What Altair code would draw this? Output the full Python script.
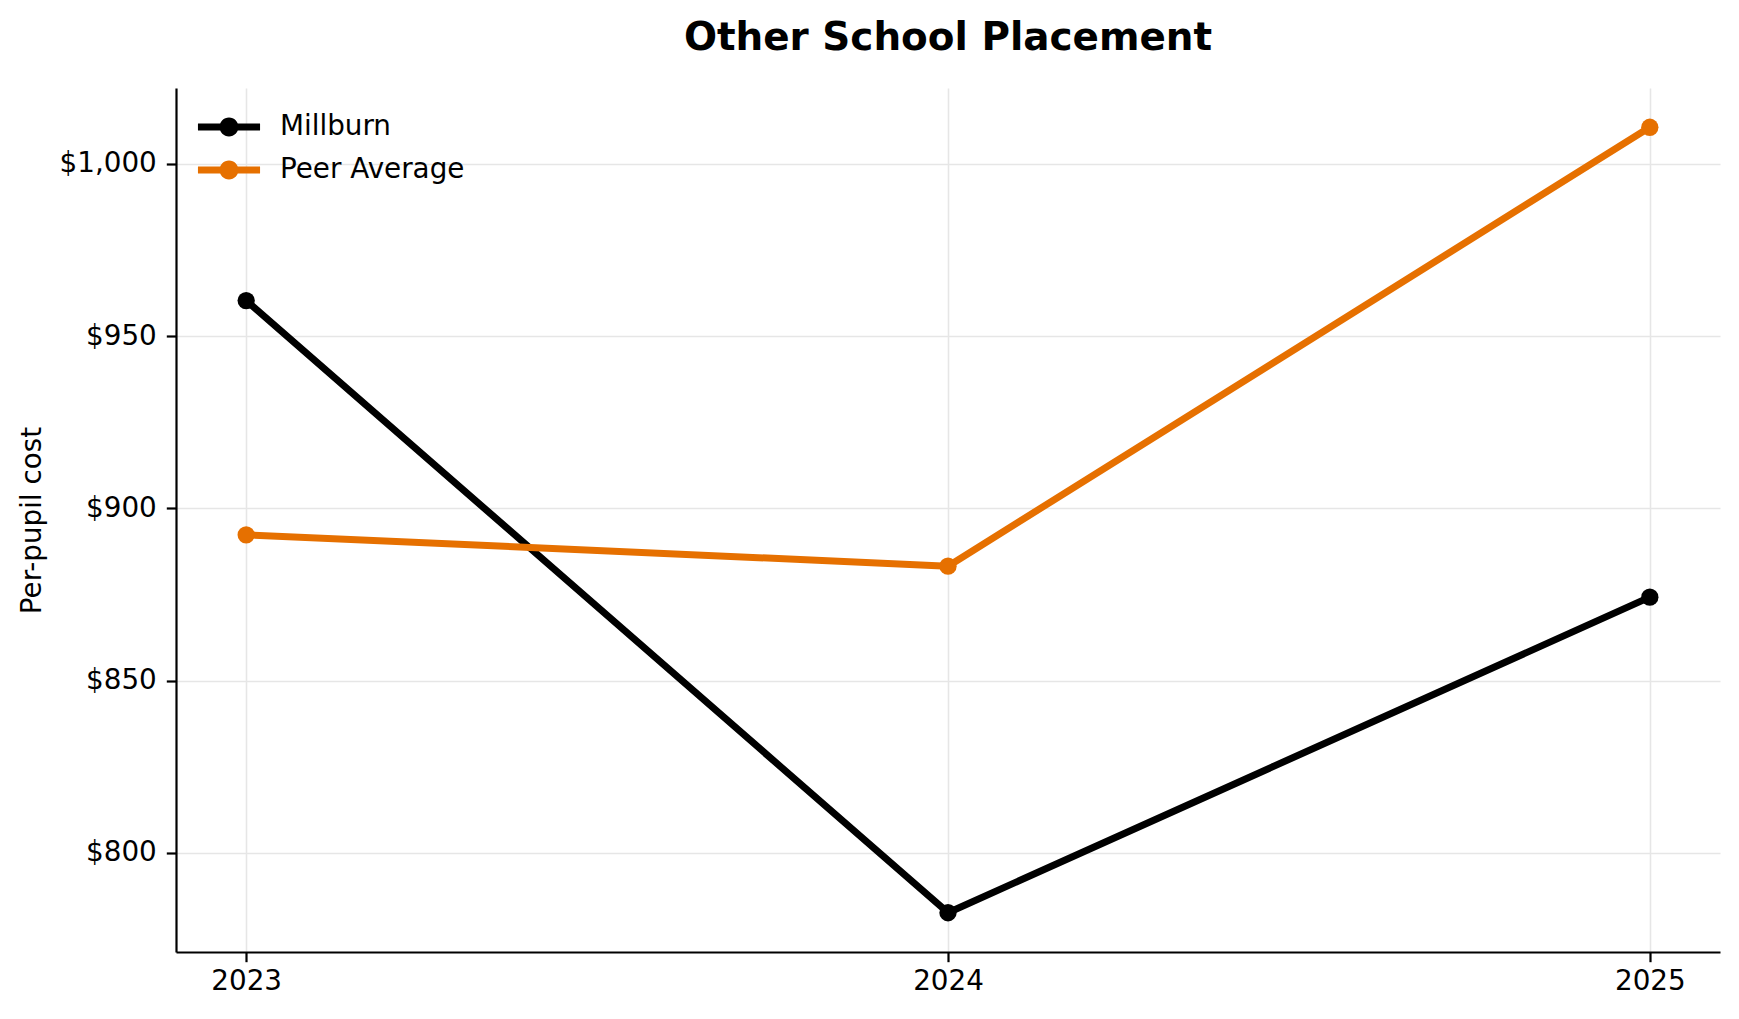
import altair as alt
import pandas as pd

# ---- data ----
years = [2023, 2024, 2025]
millburn = [960.3, 782.6, 874.2]
peer_average = [892.3, 883.2, 1010.6]
series_names = ["Millburn", "Peer Average"]
series_colors = ["#000000", "#E67000"]
y_tick_values = [800, 850, 900, 950, 1000]

rows = []
for name, vals in zip(series_names, [millburn, peer_average]):
    for yr, v in zip(years, vals):
        rows.append({"Year": yr, "Cost": v, "Series": name})
df = pd.DataFrame(rows)

FONT = "DejaVu Sans"

x_enc = alt.X(
    "Year:Q",
    scale=alt.Scale(domain=[2022.9, 2025.1], nice=False, zero=False),
    axis=alt.Axis(values=years, format="d", title=None, grid=True, labelPadding=6),
)
y_enc = alt.Y(
    "Cost:Q",
    scale=alt.Scale(domain=[771.2, 1022.0], nice=False, zero=False),
    axis=alt.Axis(
        values=y_tick_values,
        format="$,.0f",
        title="Per-pupil cost",
        grid=True,
        labelPadding=10,
        titlePadding=13,
        titleFont=FONT,
        titleFontSize=27.8,
        titleFontWeight="normal",
        titleColor="#000000",
    ),
)

color_scale = alt.Scale(domain=series_names, range=series_colors)

# legend symbol: line segment with a dot in the middle (unit coords scaled by sqrt(size)/2)
legend_path = (
    "M-2.07,-0.23 L-0.5,-0.23 L-0.5,0.23 L-2.07,0.23 Z "
    "M0.5,-0.23 L2.07,-0.23 L2.07,0.23 L0.5,0.23 Z "
    "M0.63,0 A0.63,0.63 0 1,1 -0.63,0 A0.63,0.63 0 1,1 0.63,0 Z"
)

legend = alt.Legend(
    title=None,
    orient="none",
    legendX=38,
    legendY=24,
    padding=0,
    rowPadding=14,
    labelOffset=36,
    labelLimit=600,
    labelFont=FONT,
    labelFontSize=27.8,
    labelColor="#000000",
    symbolType=legend_path,
    symbolSize=900,
    symbolStrokeWidth=0,
    symbolOpacity=1,
)

lines = alt.Chart(df).mark_line(strokeWidth=7, strokeCap="butt", strokeJoin="round").encode(
    x=x_enc,
    y=y_enc,
    color=alt.Color("Series:N", scale=color_scale, legend=legend),
    detail="Series:N",
)

points = alt.Chart(df).mark_circle(size=300, opacity=1).encode(
    x=x_enc,
    y=y_enc,
    color=alt.Color("Series:N", scale=color_scale, legend=legend),
)

chart = (
    alt.layer(lines, points)
    .properties(
        width=1544,
        height=864,
        padding={"left": 168, "top": 80, "right": 10, "bottom": 50},
        autosize=alt.AutoSizeParams(type="none"),
        background="#ffffff",
        title=alt.TitleParams(
            "Other School Placement",
            font=FONT,
            fontSize=38.9,
            fontWeight="bold",
            color="#000000",
            anchor="middle",
            offset=30,
        ),
    )
    .configure_view(stroke=None)
    .configure_axis(
        labelFont=FONT,
        labelFontSize=27.8,
        labelColor="#000000",
        domainColor="#000000",
        domainWidth=2.2,
        tickColor="#000000",
        tickWidth=2.2,
        tickSize=9.7,
        gridColor="#e6e6e6",
        gridWidth=1.6,
    )
    .configure_legend(symbolFillColor="#000000")
)

chart.save("out.html", embed_options={"renderer": "svg", "actions": False})
